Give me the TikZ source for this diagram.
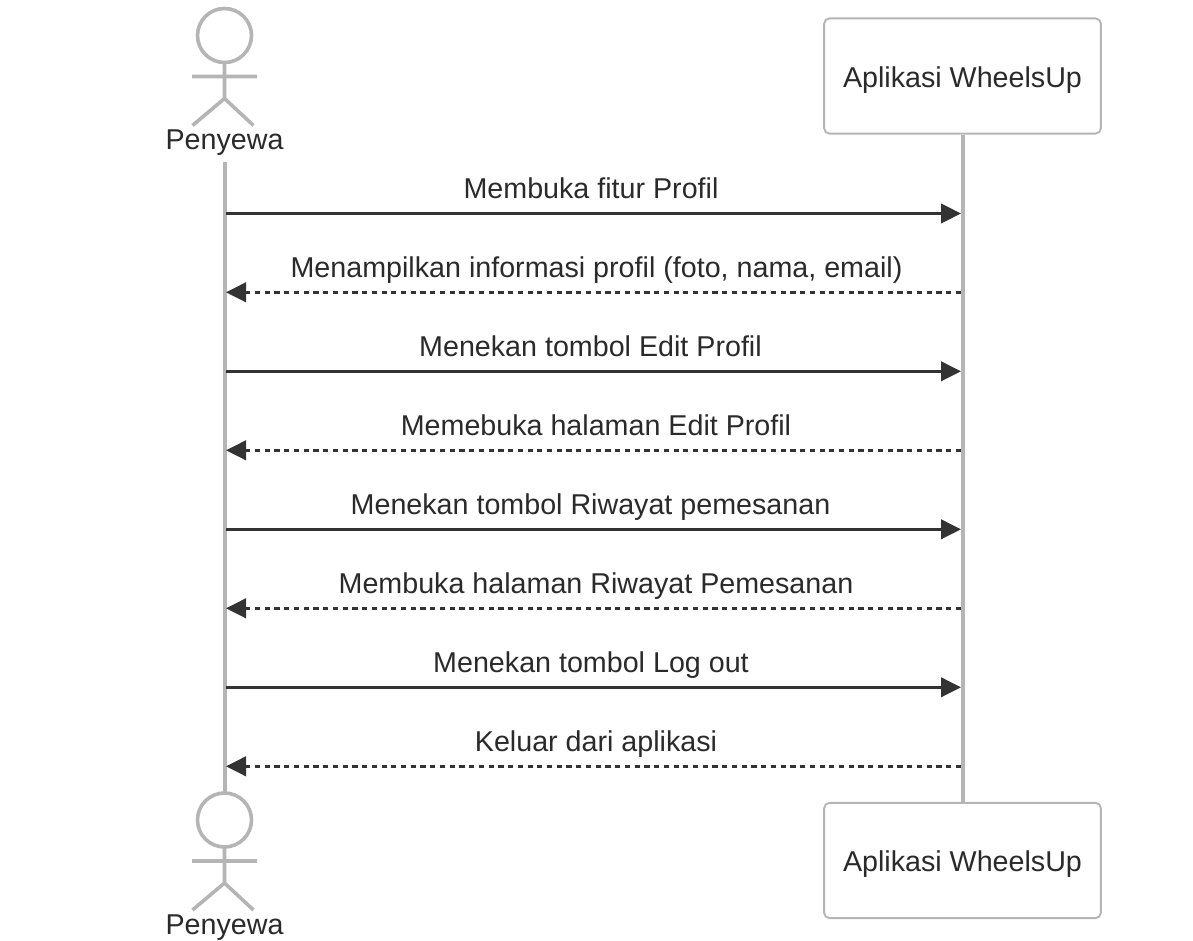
\documentclass[tikz,border=0pt]{standalone}
\usepackage{fontspec}
\setmainfont{Liberation Sans}
\usetikzlibrary{arrows.meta}
\definecolor{grayline}{HTML}{B5B5B5}
\definecolor{dark}{HTML}{333333}
\definecolor{inkt}{HTML}{2A2A2A}
\tikzset{
  px/.style={x=0.75pt,y=-0.75pt},
  lifeline/.style={draw=grayline,line width=3pt},
  actorline/.style={draw=grayline,line width=2.7pt},
  labelfont/.style={text=inkt,inner sep=0pt,anchor=base,font=\fontsize{21.5}{25}\selectfont},
  boxnode/.style={draw=grayline,line width=1.4pt,rounded corners=4pt,fill=white,minimum width=207.5pt,minimum height=86.5pt,inner sep=0pt},
  actorlabel/.style={labelfont},
  msglabel/.style={labelfont},
  call/.style={draw=dark,line width=2.25pt,-{Triangle[length=15pt,width=14.5pt,fill=dark]}},
  reply/.style={draw=dark,line width=2.3pt,dash pattern=on 3.9pt off 3.4pt,-{Triangle[length=15pt,width=14.5pt,fill=dark]}},
}
\newcommand{\stickman}[2]{% x, head centre y
  \draw[actorline] (#1,#2) circle[radius=27];
  \draw[actorline] (#1,#2+27) -- (#1,#2+63)
     (#1-32.5,#2+41) -- (#1+32.5,#2+41)
     (#1-32,#2+90) -- (#1,#2+63) -- (#1+29,#2+90);
}
\begin{document}
\begin{tikzpicture}[px]
\useasboundingbox (0,0) rectangle (1193,941);
\coordinate (pt) at (224.5,162);
\coordinate (pb) at (224.5,793);
\node[boxnode] (apptop) at (962.5,76) {};
\node[boxnode] (appbot) at (962.5,860.5) {};
\draw[lifeline] (pt) -- (pb);
\draw[lifeline] (apptop.south) -- (appbot.north);
\node[labelfont] (apptoplabel) at (962.5,87.5) {Aplikasi WheelsUp};
\node[labelfont] (appbotlabel) at (962.5,871) {Aplikasi WheelsUp};
% actors
\stickman{224.5}{35.5}
\stickman{224.5}{820}
\node[actorlabel] (ptlabel) at (224.5,149.5) {Penyewa};
\node[actorlabel] (pblabel) at (224.5,934) {Penyewa};
% message anchors
\foreach \n/\y in {a/213.5,b/292.3,c/371.3,d/450.3,e/529.3,f/608.3,g/687.3,h/766.3}{
  \coordinate (l\n) at (226,\y);
  \coordinate (r\n) at (961,\y);
}
\draw[call] (la) -- (ra);
\node[msglabel] (ma) at (591,198.5) {Membuka fitur Profil};
\draw[reply] (rb) -- (lb);
\node[msglabel] (mb) at (596.5,277.5) {Menampilkan informasi profil (foto, nama, email)};
\draw[call] (lc) -- (rc);
\node[msglabel] (mc) at (590.5,356.5) {Menekan tombol Edit Profil};
\draw[reply] (rd) -- (ld);
\node[msglabel] (md) at (596,435.5) {Memebuka halaman Edit Profil};
\draw[call] (le) -- (re);
\node[msglabel] (me) at (590.5,514) {Menekan tombol Riwayat pemesanan};
\draw[reply] (rf) -- (lf);
\node[msglabel] (mf) at (596,593) {Membuka halaman Riwayat Pemesanan};
\draw[call] (lg) -- (rg);
\node[msglabel] (mg) at (591,672) {Menekan tombol Log out};
\draw[reply] (rh) -- (lh);
\node[msglabel] (mh) at (596,751) {Keluar dari aplikasi};
\end{tikzpicture}
\end{document}
